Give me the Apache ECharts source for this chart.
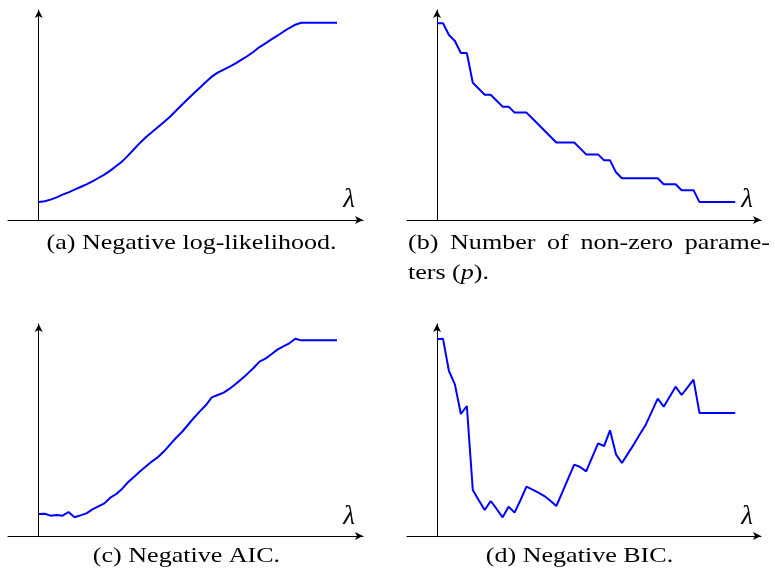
<!DOCTYPE html>
<html>
<head>
<meta charset="utf-8">
<script src="https://cdn.jsdelivr.net/npm/echarts@6/dist/echarts.min.js"></script>
<style>
  html, body { margin: 0; padding: 0; background: #fff; }
  #chart { width: 775px; height: 576px; }
</style>
</head>
<body>
<div id="chart"></div>
<script>
// Regularisation path: one sample per lambda step (0..50)
const lambdaSteps = Array.from({ length: 51 }, (_, i) => i);

// (a) Negative log-likelihood
const negLogLik = [
  3.02, 3.13, 3.41, 3.80, 4.25, 4.64, 5.08, 5.53, 5.98, 6.48,
  7.04, 7.60, 8.27, 9.05, 9.83, 10.84, 11.90, 12.96, 13.91, 14.75,
  15.59, 16.42, 17.32, 18.32, 19.33, 20.28, 21.23, 22.18, 23.13, 24.02,
  24.69, 25.20, 25.70, 26.26, 26.87, 27.49, 28.21, 28.99, 29.61, 30.28,
  30.89, 31.56, 32.18, 32.74, 33.07, 33.07, 33.07, 33.07, 33.07, 33.07,
  33.07
];

// (b) Number of non-zero parameters
const nonZeroParams = [
  33, 33, 31, 30, 28, 28, 23, 22, 21, 21,
  20, 19, 19, 18, 18, 18, 17, 16, 15, 14,
  13, 13, 13, 13, 12, 11, 11, 11, 10, 10,
  8, 7, 7, 7, 7, 7, 7, 7, 6, 6,
  6, 5, 5, 5, 3, 3, 3, 3, 3, 3,
  3
];

// (c) Negative AIC
const negAIC = [
  3.69, 3.74, 3.41, 3.52, 3.41, 4.02, 3.13, 3.46, 3.80, 4.47,
  4.97, 5.47, 6.42, 7.04, 7.93, 9.05, 9.94, 10.84, 11.68, 12.51,
  13.24, 14.19, 15.31, 16.42, 17.43, 18.60, 19.78, 20.89, 21.90, 23.24,
  23.63, 24.02, 24.69, 25.47, 26.31, 27.21, 28.16, 29.22, 29.72, 30.45,
  31.23, 31.79, 32.29, 33.07, 32.79, 32.79, 32.79, 32.79, 32.79, 32.79,
  32.79
];

// (d) Negative BIC
const negBIC = [
  32.96, 33.07, 27.65, 25.42, 20.45, 21.79, 7.71, 5.98, 4.36, 5.87,
  4.53, 3.13, 4.92, 3.91, 6.03, 8.27, 7.77, 7.26, 6.70, 5.92,
  5.03, 7.32, 9.66, 11.96, 11.56, 10.84, 13.18, 15.53, 15.08, 17.71,
  13.69, 12.23, 13.80, 15.36, 17.04, 18.66, 20.84, 23.02, 21.68, 23.35,
  25.03, 23.63, 24.92, 26.20, 20.61, 20.61, 20.61, 20.61, 20.61, 20.61,
  20.61
];

const captions = [
  '(a) Negative log-likelihood.',
  'ters (p).',
  '(c) Negative AIC.',
  '(d) Negative BIC.'
];
const captionBWords = ['(b)', 'Number', 'of', 'non-zero', 'parame-'];
const axisVarName = 'λ';

const chart = echarts.init(document.getElementById('chart'), null, { renderer: 'canvas' });

const SERIF = '"Liberation Serif", "DejaVu Serif", serif';
const BLUE = '#0000ff';
const CAP_SCALE = 1.24;   // captions are set wide, like Computer Modern

// panel frames: grid box and axis extents (the axis line starts at the left edge, arrow at the right/top)
const panels = [
  { left: 8,   top: 10,  width: 355, height: 210, xMin: -5.15, xMax: 54.35, yMax: 35.2,  data: negLogLik },
  { left: 407, top: 10,  width: 354, height: 210, xMin: -5.03, xMax: 54.31, yMax: 35.2,  data: nonZeroParams },
  { left: 8,   top: 324, width: 355, height: 212, xMin: -5.15, xMax: 54.35, yMax: 35.53, data: negAIC },
  { left: 407, top: 324, width: 354, height: 212, xMin: -5.03, xMax: 54.31, yMax: 35.53, data: negBIC }
];

const axisLine = {
  show: true,
  onZero: true,
  symbol: ['none', 'arrow'],
  symbolSize: [6, 8],
  lineStyle: { color: '#000', width: 1 }
};

const option = {
  animation: false,
  backgroundColor: '#fff',
  grid: panels.map(p => ({ left: p.left, top: p.top, width: p.width, height: p.height, containLabel: false })),
  xAxis: panels.map((p, i) => ({
    type: 'value', gridIndex: i, min: p.xMin, max: p.xMax,
    axisLine: axisLine, axisTick: { show: false }, axisLabel: { show: false }, splitLine: { show: false }
  })),
  yAxis: panels.map((p, i) => ({
    type: 'value', gridIndex: i, min: 0, max: p.yMax,
    axisLine: axisLine, axisTick: { show: false }, axisLabel: { show: false }, splitLine: { show: false }
  })),
  series: panels.map((p, i) => ({
    type: 'line', xAxisIndex: i, yAxisIndex: i,
    data: lambdaSteps.map((x, k) => [x, p.data[k]]),
    showSymbol: false, symbol: 'none',
    lineStyle: { color: BLUE, width: 2 },
    itemStyle: { color: BLUE }
  })),
  graphic: []
};

// lambda labels near the end of each horizontal axis
const lambdaPos = [[349, 200], [747, 200], [349, 517], [747, 517]];
lambdaPos.forEach(([x, y]) => {
  option.graphic.push({
    type: 'text', x: x, y: y,
    style: { text: axisVarName, fill: '#000', font: 'italic 27px ' + SERIF, align: 'center', verticalAlign: 'middle' }
  });
});

// captions
const capFont = '21px ' + SERIF;
function caption(text, x, y, align) {
  return {
    type: 'text', x: x, y: y, scaleX: CAP_SCALE,
    style: { text: text, fill: '#000', font: capFont, align: align || 'center', verticalAlign: 'middle' }
  };
}
option.graphic.push(caption(captions[0], 191.5, 243));
option.graphic.push(caption(captions[2], 186.5, 556));
option.graphic.push(caption(captions[3], 579.5, 556));

// first line of caption (b), justified between the column edges
const bLeft = 408, bRight = 770;
const bWidths = captionBWords.map(w => echarts.format.getTextRect
  ? echarts.format.getTextRect(w, capFont).width * CAP_SCALE
  : w.length * 10);
const bGap = (bRight - bLeft - bWidths.reduce((s, v) => s + v, 0)) / (captionBWords.length - 1);
let bx = bLeft;
captionBWords.forEach((w, k) => {
  option.graphic.push(caption(w, bx, 243, 'left'));
  bx += bWidths[k] + bGap;
});
// second line with italic p
option.graphic.push({
  type: 'text', x: 408, y: 273, scaleX: CAP_SCALE,
  style: {
    text: '{r|ters (}{i|p}{r|).}',
    fill: '#000', align: 'left', verticalAlign: 'middle',
    rich: {
      r: { font: capFont, fill: '#000' },
      i: { font: 'italic ' + capFont, fill: '#000' }
    }
  }
});

chart.setOption(option);
</script>
</body>
</html>
